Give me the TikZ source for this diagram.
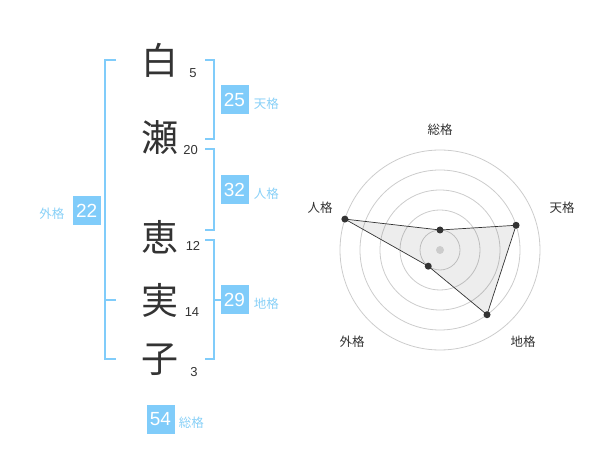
\documentclass[tikz,border=0pt]{standalone}
\usepackage{fontspec}
\setmainfont{Liberation Sans}
\newfontfamily\jp{Noto Sans CJK JP}
\usetikzlibrary{positioning}
\definecolor{kaku}{HTML}{80CCFA}
\definecolor{kakutext}{HTML}{88D0F7}
\definecolor{ink}{HTML}{333333}
\definecolor{ring}{HTML}{CCCCCC}

\begin{document}
\begin{tikzpicture}[x=1pt,y=-1pt,
  kanji/.style={font=\jp\fontsize{37}{37}\selectfont,text=ink,inner sep=0pt},
  kakusu/.style={font=\fontsize{13}{13}\selectfont,text=ink,inner sep=0pt},
  numbox/.style={fill=kaku,text=white,minimum width=28pt,minimum height=29pt,inner sep=0pt,font=\fontsize{19}{19}\selectfont},
  kakuname/.style={font=\jp\fontsize{12.5}{12.5}\selectfont,text=kakutext,inner sep=0pt},
  bracket/.style={draw=kaku,line width=2pt},
  axislabel/.style={font=\jp\fontsize{12.5}{12.5}\selectfont,text=ink,inner sep=0pt},
  pdot/.style={circle,fill=ink,inner sep=0pt,minimum size=7pt}]
\useasboundingbox (0,0) rectangle (600,470);

% name and stroke counts
\node[kanji] (shira) at (160,60) {白};
\node[kanji] (se) at (160,138) {瀬};
\node[kanji] (megu) at (160,237.5) {恵};
\node[kanji] (mi) at (160,300) {実};
\node[kanji] (ko) at (160,360) {子};

\node[kakusu] (shira-n) at (193,73) {5};
\node[kakusu] (se-n) at (190.5,150) {20};
\node[kakusu] (megu-n) at (193,246) {12};
\node[kakusu] (mi-n) at (192,312) {14};
\node[kakusu] (ko-n) at (194,372) {3};

% brackets
\draw[bracket] (116,60) -- (105,60) -- (105,359) -- (116,359);
\draw[bracket] (105,300) -- (116,300);
\draw[bracket] (205,60) -- (214,60) -- (214,139.5) -- (205,139.5);
\draw[bracket] (205,149) -- (214,149) -- (214,230) -- (205,230);
\draw[bracket] (205,240) -- (214,240) -- (214,359) -- (205,359);
\draw[bracket] (214,300) -- (221,300);

\node[numbox] (tenkaku) at (234.5,100) {25};
\node[numbox] (jinkaku) at (234.5,190) {32};
\node[numbox] (chikaku) at (234.5,300) {29};
\node[numbox] (gaikaku) at (86.7,210.5) {22};
\node[numbox] (soukaku) at (160.5,419) {54};

\node[kakuname,right=5pt of tenkaku,yshift=-3.5pt] (tenkaku-l) {天格};
\node[kakuname,right=5pt of jinkaku,yshift=-3.5pt] (jinkaku-l) {人格};
\node[kakuname,right=5pt of chikaku,yshift=-3.5pt] (chikaku-l) {地格};
\node[kakuname,left=8pt of gaikaku,yshift=-3.5pt] (gaikaku-l) {外格};
\node[kakuname,right=4pt of soukaku,yshift=-3.5pt] (soukaku-l) {総格};

% radar chart
\begin{scope}[shift={(440,250)}]
\foreach \r in {20,40,...,100}
  \draw[ring,line width=0.8pt] (0,0) circle (\r pt);
\coordinate (sou) at (-90:20);
\coordinate (ten) at (-18:80);
\coordinate (chi) at (54:80);
\coordinate (gai) at (126:20);
\coordinate (jin) at (198:100);
\filldraw[fill=black,fill opacity=0.07,draw=ink,line width=0.7pt] (sou) -- (ten) -- (chi) -- (gai) -- (jin) -- cycle;
\fill[ring] (0,0) circle (4pt);
\foreach \p in {sou,ten,chi,gai,jin}
  \node[pdot] (\p-dot) at (\p) {};
\end{scope}

\node[axislabel] (sou-l) at (440,130) {総格};
\node[axislabel] (ten-l) at (562,208) {天格};
\node[axislabel] (chi-l) at (523,342) {地格};
\node[axislabel] (gai-l) at (352,342) {外格};
\node[axislabel] (jin-l) at (320,208) {人格};
\end{tikzpicture}
\end{document}
